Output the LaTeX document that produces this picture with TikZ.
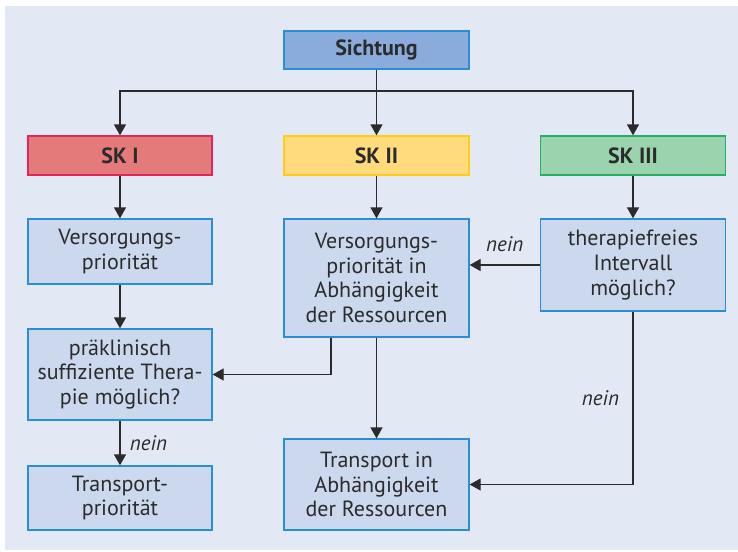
\documentclass[tikz,border=0pt]{standalone}
\usepackage{fontspec}
\setmainfont{PT Sans}
\usetikzlibrary{arrows.meta,positioning}
\definecolor{bgc}{HTML}{E2E8F4}
\definecolor{boxf}{HTML}{CCD8EE}
\definecolor{boxd}{HTML}{2A8FD0}
\definecolor{sichf}{HTML}{8AACDC}
\definecolor{sk1f}{HTML}{E57A7A}
\definecolor{sk1d}{HTML}{E0265A}
\definecolor{sk2f}{HTML}{FFDB7D}
\definecolor{sk2d}{HTML}{FFCC1A}
\definecolor{sk3f}{HTML}{9BD3AE}
\definecolor{sk3d}{HTML}{22B062}
\definecolor{linec}{HTML}{2B2B2B}
\tikzset{
  box/.style={draw=boxd, fill=boxf, line width=1.3pt, minimum width=184pt, align=center, inner sep=0pt, text=linec,
    font=\fontsize{22}{24.7}\selectfont},
  head/.style={box, minimum height=38pt, font=\fontsize{22}{24.7}\selectfont\bfseries},
  conn/.style={draw=linec, line width=1.3pt, -{Triangle[width=12pt,length=11pt]}},
  lbl/.style={font=\fontsize{21}{24}\selectfont\itshape, text=linec}
}
\begin{document}
\begin{tikzpicture}[x=1pt,y=-1pt]
\useasboundingbox (0,0) rectangle (738,551);
\fill[bgc] (5,6) rectangle (738,550);
\node[head, fill=sichf, minimum width=185pt] (S) at (376.5,50) {Sichtung};
\node[head, fill=sk1f, draw=sk1d, minimum height=39pt] (K1) at (120,155.5) {SK I};
\node[head, fill=sk2f, draw=sk2d, minimum width=185pt, minimum height=39pt] (K2) at (376.5,155.5) {SK II};
\node[head, fill=sk3f, draw=sk3d, minimum width=185pt, minimum height=39pt] (K3) at (633,155.5) {SK III};
\node[box, minimum height=65pt] (V1) at (120,251.5) {Versorgungs-\\priorität};
\node[box, minimum width=185pt, minimum height=118pt] (V2) at (376.5,278) {Versorgungs-\\priorität in\\Abhängigkeit\\der Ressourcen};
\node[box, minimum width=185pt, minimum height=92pt] (T3) at (633,265) {therapiefreies\\Intervall\\möglich?};
\node[box, minimum height=91pt] (P) at (120,374.5) {präklinisch\\suffiziente Thera-\\pie möglich?};
\node[box, minimum height=64pt] (TP) at (120,498) {Transport-\\priorität};
\node[box, minimum width=185pt, minimum height=91pt] (TR) at (376.5,484.5) {Transport in\\Abhängigkeit\\der Ressourcen};
\coordinate (J) at (376.5,91);
\draw[conn] (S) -- (K2);
\draw[conn] (J) -| (K1);
\draw[conn] (J) -| (K3);
\draw[conn] (K1) -- (V1);
\draw[conn] (K2) -- (V2);
\draw[conn] (K3) -- (T3);
\draw[conn] (V1) -- (P);
\draw[conn] (P) -- node[lbl, right=6pt] {nein} (TP);
\draw[conn] (V2) -- (TR);
\draw[conn] ([xshift=-45.5pt]V2.south) |- (P.east);
\draw[conn] (T3.west) -- (T3.west -| V2.east) node[lbl, midway, above=9pt] {nein};
\draw[conn] (T3.south) |- node[lbl, pos=0.25, left=10pt] {nein} (TR.east);
\end{tikzpicture}
\end{document}
